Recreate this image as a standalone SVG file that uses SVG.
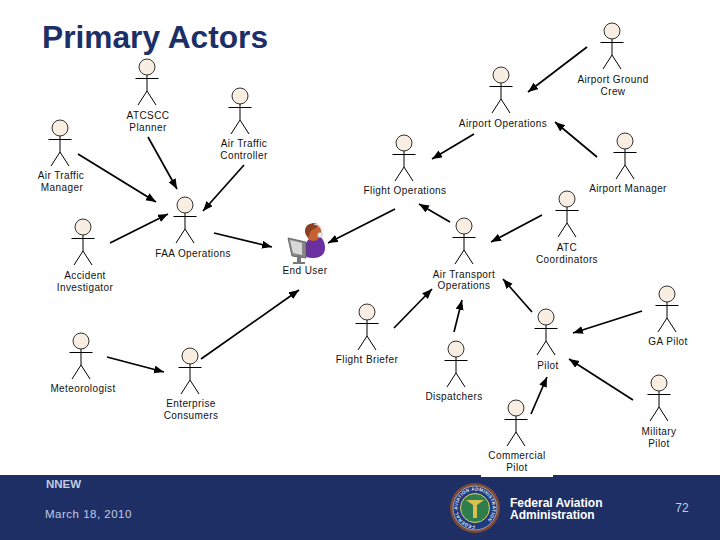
<svg xmlns="http://www.w3.org/2000/svg" width="720" height="540" viewBox="0 0 720 540">
<style>
.l{font-family:"Liberation Sans",Arial,sans-serif;font-size:10px;letter-spacing:.4px;fill:#111;text-anchor:middle}
.c line{stroke:#000;stroke-width:1.7;marker-end:url(#a)}
.ft{font-family:"Liberation Sans",Arial,sans-serif;fill:#c3cbe0}
.fb{font-family:"Liberation Sans",Arial,sans-serif;font-weight:bold;fill:#fff;font-size:12px}
</style>
<defs>
<marker id="a" markerUnits="userSpaceOnUse" markerWidth="12" markerHeight="10" refX="10" refY="4" orient="auto"><path d="M0 0L10 4L0 8Z" fill="#000"/></marker>
<g id="actor" fill="none" stroke="#000" stroke-width="1"><circle r="8" fill="#f8efe2" stroke="#333"/><path d="M0 8V24M-11.5 11.5H11.5M-9 38L0 24L9 38"/></g>
<path id="ring" d="M475 525.5A17.5 17.5 0 1 1 475.01 525.5"/>
</defs>
<rect width="720" height="540" fill="#fff"/>
<text x="42" y="48" font-family="'Liberation Sans',Arial,sans-serif" font-size="31.7" font-weight="bold" fill="#1c2f66">Primary Actors</text>
<g id="connectors" class="c">
<line x1="78" y1="154" x2="156" y2="202"/>
<line x1="148" y1="137" x2="177" y2="189"/>
<line x1="244" y1="165" x2="203" y2="211"/>
<line x1="110" y1="243" x2="168" y2="214"/>
<line x1="214" y1="233" x2="272" y2="247"/>
<line x1="395" y1="209" x2="328" y2="243"/>
<line x1="587" y1="47" x2="528" y2="92"/>
<line x1="597" y1="157" x2="555" y2="122"/>
<line x1="474" y1="134" x2="432" y2="159"/>
<line x1="450" y1="222" x2="419" y2="204"/>
<line x1="542" y1="215" x2="491" y2="242"/>
<line x1="107" y1="357" x2="164" y2="372"/>
<line x1="201" y1="359" x2="299" y2="290"/>
<line x1="394" y1="328" x2="432" y2="289"/>
<line x1="454" y1="332" x2="462" y2="300"/>
<line x1="532" y1="312" x2="503" y2="279"/>
<line x1="642" y1="311" x2="573" y2="333"/>
<line x1="633" y1="400" x2="569" y2="359"/>
<line x1="531" y1="414" x2="547" y2="377"/>
</g>
<g id="atcscc"><use href="#actor" x="147" y="67"/><text class="l" x="148" y="119">ATCSCC</text><text class="l" x="148" y="131">Planner</text></g>
<g id="controller"><use href="#actor" x="240" y="96"/><text class="l" x="244" y="147">Air Traffic</text><text class="l" x="244" y="159">Controller</text></g>
<g id="manager"><use href="#actor" x="60" y="128"/><text class="l" x="61" y="179">Air Traffic</text><text class="l" x="62" y="191">Manager</text></g>
<g id="faa"><use href="#actor" x="185" y="205"/><text class="l" x="193" y="257">FAA Operations</text></g>
<g id="accident"><use href="#actor" x="83" y="227"/><text class="l" x="85" y="279">Accident</text><text class="l" x="85" y="291">Investigator</text></g>
<g id="ground"><use href="#actor" x="612" y="31"/><text class="l" x="613" y="83">Airport Ground</text><text class="l" x="613" y="95">Crew</text></g>
<g id="airportops"><use href="#actor" x="501" y="75"/><text class="l" x="503" y="127">Airport Operations</text></g>
<g id="flightops"><use href="#actor" x="404" y="143"/><text class="l" x="405" y="194">Flight Operations</text></g>
<g id="airportmgr"><use href="#actor" x="625" y="141"/><text class="l" x="628" y="192">Airport Manager</text></g>
<g id="atc"><use href="#actor" x="567" y="199"/><text class="l" x="567" y="251">ATC</text><text class="l" x="567" y="263">Coordinators</text></g>
<g id="airtransport"><use href="#actor" x="464" y="226"/><text class="l" x="464" y="278">Air Transport</text><text class="l" x="464" y="289">Operations</text></g>
<g id="meteorologist"><use href="#actor" x="81" y="341"/><text class="l" x="83" y="392">Meteorologist</text></g>
<g id="enterprise"><use href="#actor" x="190" y="356"/><text class="l" x="191" y="407">Enterprise</text><text class="l" x="191" y="419">Consumers</text></g>
<g id="briefer"><use href="#actor" x="367" y="312"/><text class="l" x="367" y="363">Flight Briefer</text></g>
<g id="dispatchers"><use href="#actor" x="456" y="349"/><text class="l" x="454" y="400">Dispatchers</text></g>
<g id="pilot"><use href="#actor" x="546" y="317"/><text class="l" x="548" y="369">Pilot</text></g>
<g id="ga"><use href="#actor" x="667" y="294"/><text class="l" x="668" y="345">GA Pilot</text></g>
<g id="military"><use href="#actor" x="659" y="383"/><text class="l" x="659" y="435">Military</text><text class="l" x="659" y="447">Pilot</text></g>
<g id="enduser">
<path d="M304 252C304 242 310 236 317 236C322 236 325 242 325 248C325 255 320 258 313 258C308 258 304 257 304 252Z" fill="#6a2fa0"/>
<path d="M306 232C306 227 310 224 315 224C320 224 322 228 321 233C320 238 317 241 313 241C309 241 306 237 306 232Z" fill="#c5622f"/>
<path d="M305 231C305 225 310 223 315 223C318 223 318 228 314 229C311 230 309 233 309 237C306 236 305 234 305 231Z" fill="#8a3f22"/>
<path d="M314 224C319 224 322 228 322 233" fill="none" stroke="#ddd" stroke-width="1.5"/>
<circle cx="320" cy="235" r="2.5" fill="#e8e8e8" stroke="#aaa" stroke-width=".5"/>
<path d="M288 238L306 242L306 258L292 256Z" fill="#888" stroke="#555" stroke-width=".8"/><path d="M290 240L302 243L302 255L293 253Z" fill="#d8d8d8"/>
<path d="M297 255H301V262H305V264H293V262H297Z" fill="#777"/>
<text class="l" x="305" y="274">End User</text></g>
<g id="footer">
<rect y="475" width="720" height="65" fill="#1e2f66"/>
<rect x="481" y="472" width="72" height="5" fill="#fff"/>
<text x="46" y="488" class="ft" font-size="11.5" font-weight="bold">NNEW</text>
<text x="45" y="518" class="ft" font-size="11.5" letter-spacing=".5">March 18, 2010</text>
<circle cx="475" cy="508" r="25" fill="#7a4a35"/><circle cx="475" cy="508" r="22" fill="#1e3a80" stroke="#ddd" stroke-width=".6"/><circle cx="475" cy="508" r="14.5" fill="#2f7d4c" stroke="#e8d060"/>
<path d="M466 500L484 500L477 505V518H473V505Z" fill="#d8c050"/>
<text font-family="'Liberation Sans',Arial,sans-serif" font-size="4.6" font-weight="bold" fill="#e8e8f0" letter-spacing=".35"><textPath href="#ring">FEDERAL AVIATION ADMINISTRATION</textPath></text>
<text x="510" y="507" class="fb">Federal Aviation</text>
<text x="510" y="519" class="fb">Administration</text>
<text x="682" y="512" class="ft" font-size="12" text-anchor="middle">72</text>
</g>
<g id="commercial"><use href="#actor" x="516" y="408"/><text class="l" x="517" y="459">Commercial</text><text class="l" x="517" y="471">Pilot</text></g>
</svg>
